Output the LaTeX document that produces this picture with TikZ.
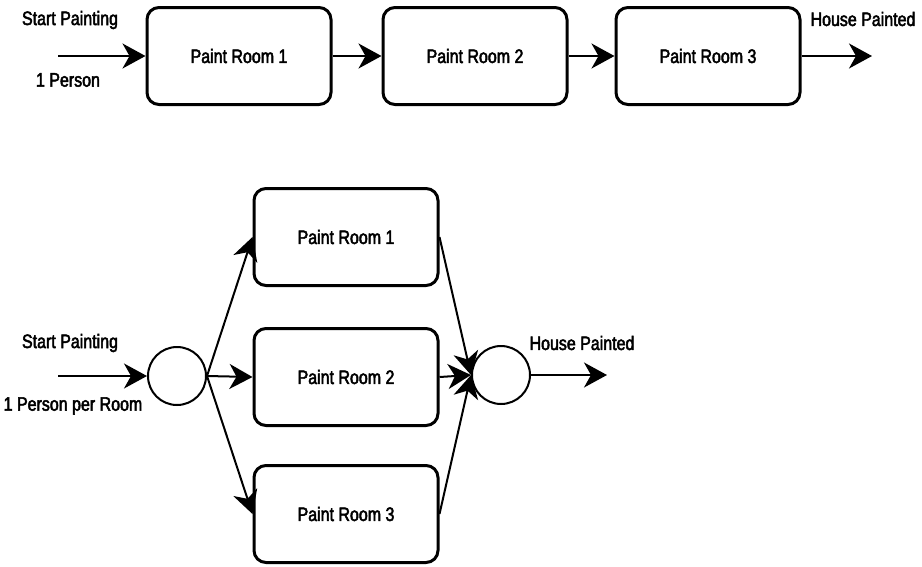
\documentclass[tikz,border=0pt]{standalone}
\usepackage{fontspec}
\setmainfont{Liberation Sans}[FakeStretch=0.82,FakeBold=2.5]
\usetikzlibrary{arrows.meta}
\begin{document}
\begin{tikzpicture}[x=1pt,y=-1pt,font=\fontsize{19.5}{23}\selectfont,
    room/.style={draw,line width=3pt,rounded corners=12pt,minimum width=184pt,minimum height=97pt},
    hub/.style={draw,circle,line width=2pt,minimum size=58pt,inner sep=0pt},
    flow/.style={line width=2pt,-{Stealth[length=23pt,width=25pt,inset=7pt]}}]
    \useasboundingbox (0,0) rectangle (922,566);
    % one person, one room after the other
    \node[room] (a1) at (239,56) {Paint Room 1};
    \node[room] (a2) at (475,56) {Paint Room 2};
    \node[room] (a3) at (708,56) {Paint Room 3};
    \coordinate (s1) at (58,56);
    \coordinate (e1) at (872,56);
    \node (t1) at (70,20) {Start Painting};
    \node (t2) at (68,80) {1 Person};
    \node (t3) at (863,19) {House Painted};
    \draw[flow] (s1)--(a1);
    \draw[flow] (a1)--(a2);
    \draw[flow] (a2)--(a3);
    \draw[flow] (a3)--(e1);
    % one person per room, all at once
    \node[hub] (c1) at (177,376) {};
    \node[hub] (c2) at (501,375) {};
    \node[room] (b1) at (346,237) {Paint Room 1};
    \node[room] (b2) at (346,377) {Paint Room 2};
    \node[room] (b3) at (346,514) {Paint Room 3};
    \coordinate (s2) at (58,376);
    \coordinate (e2) at (607,375);
    \node (u1) at (70,343) {Start Painting};
    \node (u2) at (73,406) {1 Person per Room};
    \node (u3) at (582,343) {House Painted};
    \draw[flow] (s2)--(c1.west);
    \draw[flow] (c1.east)--(b1.west);
    \draw[flow] (c1.east)--(b2.west);
    \draw[flow] (c1.east)--(b3.west);
    \draw[flow] (b1.east)--(c2.west);
    \draw[flow] (b2.east)--(c2.west);
    \draw[flow] (b3.east)--(c2.west);
    \draw[flow] (c2.east)--(e2);
\end{tikzpicture}
\end{document}
